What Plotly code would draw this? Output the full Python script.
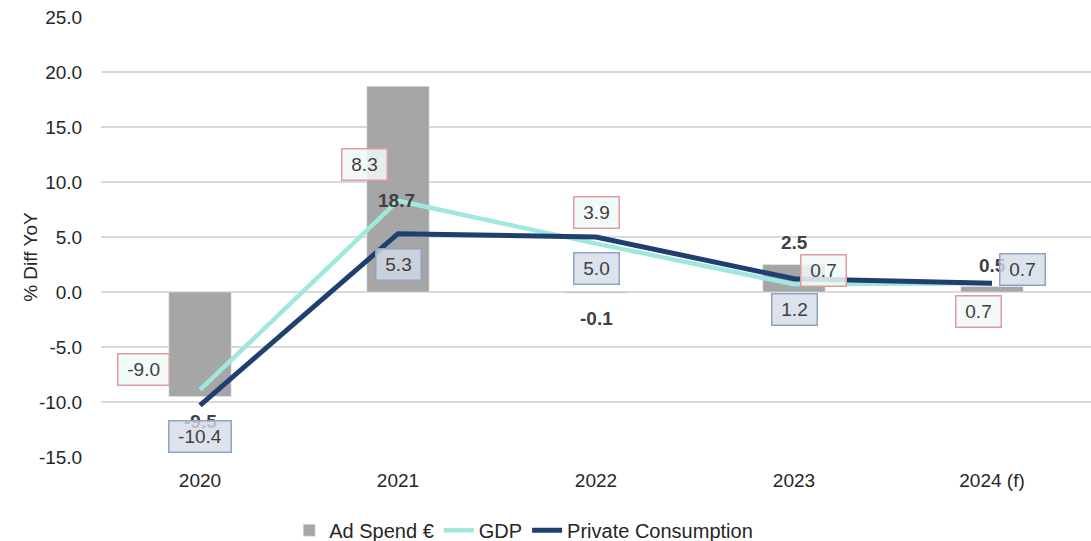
import plotly.graph_objects as go

years = ["2020", "2021", "2022", "2023", "2024 (f)"]
ad_spend = [-9.5, 18.7, -0.1, 2.5, 0.5]
gdp = [-8.9, 8.3, 4.4, 0.7, 0.8]
gdp_labels = [-9.0, 8.3, 3.9, 0.7, 0.7]
private_cons = [-10.3, 5.3, 5.0, 1.2, 0.8]
pc_labels = [-10.4, 5.3, 5.0, 1.2, 0.7]
y_ticks = [-15, -10, -5, 0, 5, 10, 15, 20, 25]

# label offsets (pixels) relative to their data point
bar_off = [(0, -25), (-2, -114), (0, -25), (0, 22), (0, 21)]
gdp_off = [(-57, 20), (-34, 36), (0, 31), (29, 14), (-14, -28)]
pc_off = [(0, -31), (0, -31), (0, -31), (0, -31), (30, 14)]

FONT = "Liberation Sans, Arial, sans-serif"
TXT = "#404040"
FS = 19

fig = go.Figure()
fig.add_trace(go.Bar(x=years, y=ad_spend, name="Ad Spend €", marker_color="#a6a6a6",
                     width=0.315))
fig.add_trace(go.Scatter(x=years, y=gdp, name="GDP", mode="lines",
                         line=dict(color="#a0e8dd", width=4.5)))
fig.add_trace(go.Scatter(x=years, y=private_cons, name="Private Consumption", mode="lines",
                         line=dict(color="#1f406f", width=5)))

ann = []
# category index positions on the category axis
for i, (v, (dx, dy)) in enumerate(zip(ad_spend, bar_off)):
    ann.append(dict(x=i, y=v, xref="x", yref="y", text=f"{v:.1f}", showarrow=False,
                    xshift=dx, yshift=dy, font=dict(family=FONT, size=FS, color=TXT, weight="bold")))


def box_width(t):
    w = 0
    for c in t:
        w += 10.6 if c.isdigit() else (5.3 if c == "." else 6.3)
    return w + 7.5


for i, (v, lab, (dx, dy)) in enumerate(zip(gdp, gdp_labels, gdp_off)):
    t = f"{lab:.1f}"
    ann.append(dict(x=i, y=v, xref="x", yref="y", text=t, showarrow=False,
                    xshift=dx, yshift=dy, width=box_width(t), height=20, borderpad=5,
                    bordercolor="#e49a9a", borderwidth=1.5, bgcolor="rgba(240,250,248,0.85)",
                    font=dict(family=FONT, size=FS, color=TXT)))
for i, (v, lab, (dx, dy)) in enumerate(zip(private_cons, pc_labels, pc_off)):
    t = f"{lab:.1f}"
    ann.append(dict(x=i, y=v, xref="x", yref="y", text=t, showarrow=False,
                    xshift=dx, yshift=dy, width=box_width(t), height=20, borderpad=5,
                    bordercolor="#8fa3c3", borderwidth=1.5, bgcolor="rgba(212,220,231,0.8)",
                    font=dict(family=FONT, size=FS, color=TXT)))

ann.append(dict(x=-0.0707, y=0.455, xref="paper", yref="paper", text="% Diff YoY",
                xanchor="center", yanchor="middle",
                textangle=-90, showarrow=False, font=dict(family=FONT, size=FS, color="#262626")))

fig.update_layout(
    width=1091, height=541,
    margin=dict(l=101, r=0, t=17, b=84, autoexpand=False),
    plot_bgcolor="white", paper_bgcolor="white",
    font=dict(family=FONT, size=FS, color="#262626"),
    showlegend=True,
    legend=dict(orientation="h", x=0.427, xanchor="center", yref="container", y=0.02,
                yanchor="middle", font=dict(family=FONT, size=20, color="#262626"),
                traceorder="normal"),
    annotations=ann,
    xaxis=dict(type="category", categoryorder="array", categoryarray=years,
               range=[-0.5, len(years) - 0.5], autorange=False,
               showgrid=False, showline=False, ticks="outside", ticklen=6,
               tickcolor="rgba(0,0,0,0)", tickfont=dict(size=FS)),
    yaxis=dict(range=[-15, 25], tickvals=y_ticks, ticktext=[f"{t:.1f}" for t in y_ticks],
               showgrid=True,
               gridcolor="#d9d9d9", gridwidth=1.5, zeroline=True, zerolinecolor="#d9d9d9",
               zerolinewidth=1.5, showline=False, ticks="outside", ticklen=14,
               tickcolor="rgba(0,0,0,0)", tickfont=dict(size=FS)),
)

fig.write_html("out.html")
